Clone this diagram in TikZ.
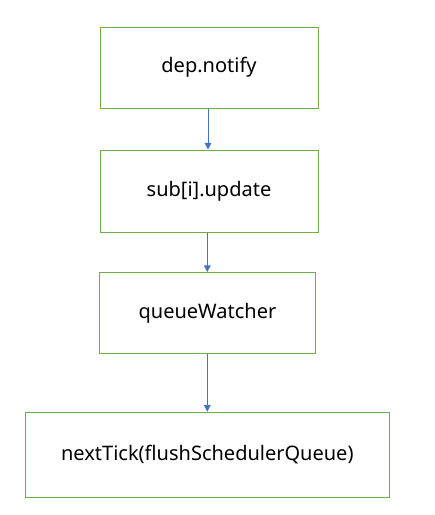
\documentclass[tikz,border=0pt]{standalone}
\usepackage{fontspec}
\setmainfont{Noto Sans}
\usepackage{xcolor}
\usepackage{tikz}
\usetikzlibrary{positioning, arrows.meta}

\definecolor{boxgreen}{HTML}{70AD47}
\definecolor{arrowblue}{HTML}{4472C4}

\begin{document}
\begin{tikzpicture}[x=0.75pt, y=-0.75pt,
  box/.style={draw=boxgreen, line width=0.75pt, fill=white, align=center, font=\fontsize{15}{18}\selectfont},
  link/.style={draw=arrowblue, line width=0.75pt, -{Triangle[length=5pt, width=5pt]}}]

%//page frame
\useasboundingbox (0,0) rectangle (435,515);

\node [box, minimum width=218*0.75pt, minimum height=81*0.75pt] (notify) at (209, 67.5) {dep.notify};
\node [box, minimum width=218*0.75pt, minimum height=82*0.75pt] (update) at (209, 191) {sub[i].update};
\node [box, minimum width=216*0.75pt, minimum height=81*0.75pt] (queue) at (207.5, 313) {queueWatcher};
\node [box, minimum width=364*0.75pt, minimum height=85*0.75pt] (tick) at (207.3, 454.7) {nextTick(flushSchedulerQueue)};

\draw [link] (notify.south -| 208,0) -- (update.north -| 208,0);
\draw [link] (update.south -| 207.3,0) -- (queue.north -| 207.3,0);
\draw [link] (queue.south -| 207.3,0) -- (tick.north -| 207.3,0);
\end{tikzpicture}
\end{document}
